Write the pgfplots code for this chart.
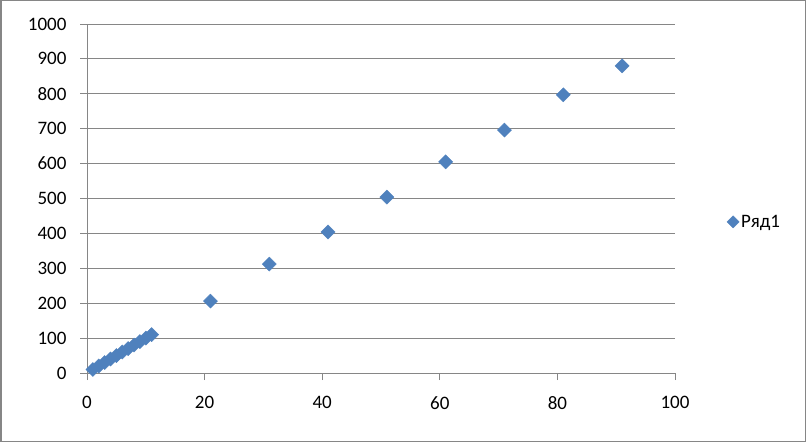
\documentclass[border=0pt]{standalone}
\usepackage{pgfplots}
\pgfplotsset{compat=1.18}
\usepackage{fontspec}
\setmainfont{Carlito}
\definecolor{ser}{HTML}{4F81BD}
\definecolor{gr}{HTML}{868686}
\begin{document}
\begin{tikzpicture}[x=1pt,y=1pt]
\path[use as bounding box] (0,0) rectangle (806,442);
\draw[gr,line width=1.5pt] (0.75,0.75) rectangle (805.25,441.25);
\begin{axis}[
  at={(87pt,69pt)}, anchor=south west,
  scale only axis, width=588pt, height=349pt,
  xmin=0, xmax=100, ymin=0, ymax=1000,
  xtick={0,20,...,100}, ytick={0,100,...,1000},
  axis x line*=bottom, axis y line*=left,
  axis line style={gr, line width=0.8pt},
  tick style={gr, line width=0.8pt},
  tick align=outside, major tick length=7pt,
  ymajorgrids, grid style={gr, line width=0.8pt},
  ticklabel style={font=\fontsize{19}{22}\selectfont},
  /pgf/number format/assume math mode=true,
  /pgf/number format/1000 sep={},
  yticklabel style={xshift=-10pt},
  xticklabel style={yshift=-13pt},
  legend style={at={(1.083,0.433)}, anchor=west, draw=none, font=\fontsize{19}{22}\selectfont},
  legend image code/.code={\draw[#1, mark size=4.3pt] plot coordinates {(0.4em,0)};},
  clip=false,
]
\addplot[only marks, mark=square*, mark size=5pt, mark options={rotate=45}, color=ser, fill=ser] coordinates {
  (1,10) (2,20) (3,30) (4,40) (5,50) (6,60) (7,70) (8,80) (9,90) (10,100) (11,110)
  (21,206) (31,312) (41,404) (51,504) (61,605) (71,696) (81,797) (91,880)
};
\addlegendentry{Ряд1}
\end{axis}
\end{tikzpicture}
\end{document}
